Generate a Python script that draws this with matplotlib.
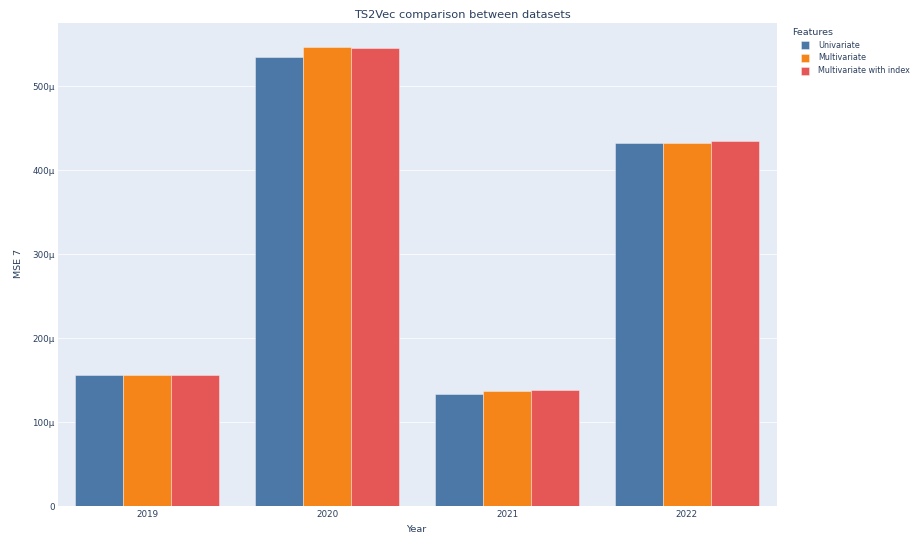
import matplotlib
matplotlib.use("Agg")
import matplotlib.pyplot as plt
from matplotlib.patches import Rectangle
from matplotlib.ticker import FuncFormatter, MultipleLocator
import numpy as np

plt.rcParams['font.family'] = ['DejaVu Sans']

years = ["2019", "2020", "2021", "2022"]
series_names = ["Univariate", "Multivariate", "Multivariate with index"]
univariate = [156e-6, 534e-6, 133.7e-6, 432e-6]
multivariate = [156e-6, 546e-6, 136.5e-6, 431.7e-6]
multivariate_index = [156e-6, 545.2e-6, 137.7e-6, 434.1e-6]
colors = ["#4C78A8", "#F58518", "#E45756"]

W, H = 913, 543
fig = plt.figure(figsize=(W / 100, H / 100), dpi=100)
left, right, top, bottom = 57.5, 776.7, 23, 506
ax = fig.add_axes([left / W, (H - bottom) / H, (right - left) / W, (bottom - top) / H])

text_color = "#2a3f5f"
ax.set_facecolor("#E5ECF6")
for s in ax.spines.values():
    s.set_visible(False)

x = np.arange(len(years))
bw = 0.8 / 3
for i, (vals, c) in enumerate(zip([univariate, multivariate, multivariate_index], colors)):
    ax.bar(x + (i - 1) * bw, vals, width=bw, color=c,
           edgecolor=(1, 1, 1, 0.45), linewidth=0.6, zorder=3)

ax.set_xlim(-0.5, len(years) - 0.5)
ax.set_ylim(0, 575e-6)
ax.set_xticks(x)
ax.set_xticklabels(years)
ax.yaxis.set_major_locator(MultipleLocator(100e-6))
ax.yaxis.set_major_formatter(FuncFormatter(lambda v, p: "0" if abs(v) < 1e-12 else f"{v * 1e6:.0f}µ"))
ax.grid(axis="y", color="white", linewidth=0.8, alpha=0.7, zorder=0)
ax.set_axisbelow(True)
ax.tick_params(axis="both", length=0, labelsize=6.3, colors=text_color)
ax.tick_params(axis="y", pad=2)
ax.tick_params(axis="x", pad=3)

fig.text(462 / W, 1 - 15 / H, "TS2Vec comparison between datasets", ha="center", va="center",
         fontsize=8.2, color=text_color)
fig.text(416.7 / W, 1 - 530 / H, "Year", ha="center", va="center",
         fontsize=6.8, color=text_color)
fig.text(18 / W, 1 - 263 / H, "MSE 7", ha="center", va="center", rotation=90,
         fontsize=6.8, color=text_color)

# legend
fig.text(792.5 / W, 1 - 32.5 / H, "Features", ha="left", va="center", fontsize=6.8, color=text_color)
for name, c, yc in zip(series_names, colors, [45.3, 58.0, 70.7]):
    fig.patches.append(Rectangle(((801) / W, 1 - (yc + 4) / H), 8 / W, 8 / H,
                                 transform=fig.transFigure, facecolor=c,
                                 edgecolor=(1, 1, 1, 0.5), linewidth=0.5))
    fig.text(818 / W, 1 - yc / H, name, ha="left", va="center", fontsize=5.75, color=text_color)

fig.savefig("out.png", dpi=100)
